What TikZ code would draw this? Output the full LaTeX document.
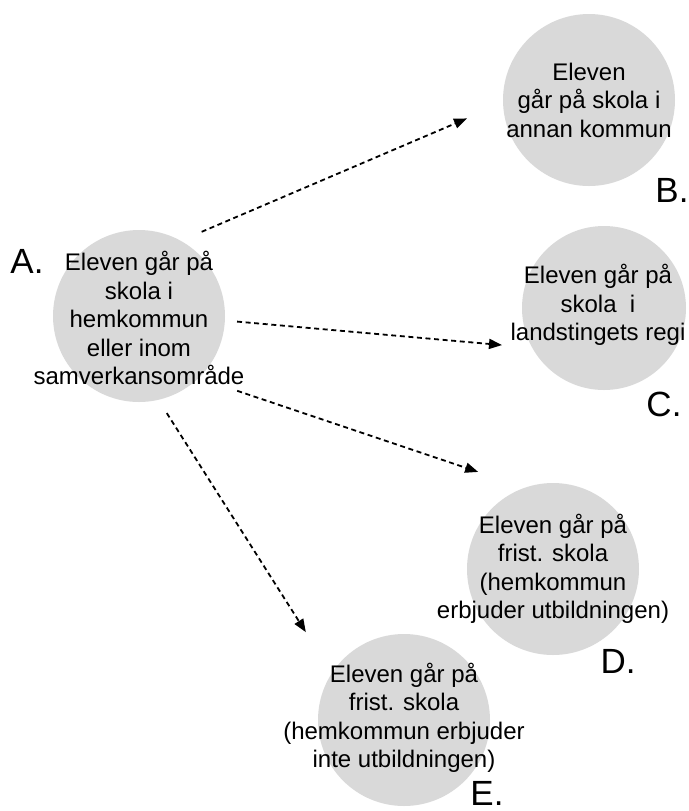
\documentclass[tikz,border=0pt]{standalone}
\usepackage{fontspec}
\setmainfont{Liberation Sans}
\usetikzlibrary{arrows.meta}
\definecolor{bubblegray}{RGB}{217,217,217}
\tikzset{
    bubble/.style={circle,fill=bubblegray,minimum size=#1,inner sep=0pt,outer sep=0pt},
    bubble/.default=86pt,
    txt/.style={align=center,font=\fontsize{12}{14.25}\selectfont,inner sep=0pt},
    letter/.style={font=\fontsize{17.5}{20}\selectfont,inner sep=0pt},
    link/.style={->,line width=0.9pt,dash pattern=on 2.5pt off 1.8pt}
}
\begin{document}
\begin{tikzpicture}[x=0.5pt,y=-0.5pt,>={Stealth[inset=0pt,length=6.5pt,width=5pt]}]
    \useasboundingbox (0,0) rectangle (689,811);
    \node[bubble] (A) at (139,316) {};
    \node[bubble] (B) at (589,100) {};
    \node[bubble=82pt] (C) at (604,308) {};
    \node[bubble] (D) at (553,569) {};
    \node[bubble] (E) at (404,720) {};
    \node[txt] (Atxt) at (139,318) {Eleven går på\\skola i\\hemkommun\\eller inom\\samverkansområde};
    \node[txt] (Btxt) at (589,100) {Eleven\\går på skola i\\annan kommun};
    \node[txt] (Ctxt) at (598,305) {Eleven går på\\skola~ i\\landstingets regi};
    \node[txt] (Dtxt) at (553,569) {Eleven går på\\frist. skola\\(hemkommun\\erbjuder utbildningen)};
    \node[txt] (Etxt) at (404,718) {Eleven går på\\frist. skola\\(hemkommun erbjuder\\inte utbildningen)};
    \foreach \l/\x/\y in {A/27/261,B/672/190,C/664/404,D/618/661,E/487/793}
    {
        \node[letter] (\l lbl) at (\x,\y) {\l.};
    }
    \foreach \t/\a/\b/\s/\e in {B/61/182/11.4pt/19.6pt,C/-3/209/6.1pt/15.2pt,D/-46/109/20.3pt/24.7pt,E/-77/147/7.9pt/24.3pt}
    {
        \draw[link,shorten <=\s,shorten >=\e] (A.\a) -- (\t.\b);
    }
\end{tikzpicture}
\end{document}
